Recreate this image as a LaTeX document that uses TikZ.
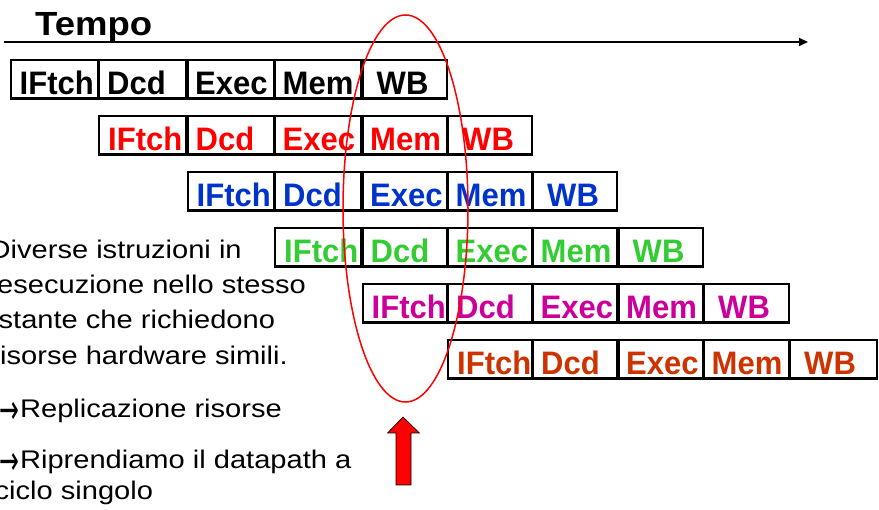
\documentclass[tikz,border=0pt]{standalone}
\usepackage{fontspec}
\usepackage{graphicx}
\setmainfont{Liberation Sans}
\newfontfamily\boxfont[FakeStretch=0.955]{Liberation Sans}
\newfontfamily\tempofont[FakeStretch=1.09]{Liberation Sans}
\newfontfamily\bodyfont[FakeStretch=1.14]{Liberation Sans}
\newfontfamily\arrowfont{DejaVu Sans}
\usetikzlibrary{arrows.meta,shapes.geometric,calc}
\definecolor{cBlue}{RGB}{0,51,204}
\definecolor{cGreen}{RGB}{51,204,51}
\definecolor{cMagenta}{RGB}{204,0,153}
\definecolor{cOrange}{RGB}{204,51,0}
\definecolor{cRed}{RGB}{255,0,0}
\newcommand{\rarr}{\smash{\raisebox{-6pt}{\scalebox{0.95}[1.6]{\arrowfont\fontsize{25}{30}\selectfont →}}}\hspace{1pt}}
\begin{document}
\begin{tikzpicture}[x=1pt,y=-1pt,
  stagebox/.style={draw=black, line width=2.4pt, anchor=north west, minimum height=38.5pt, inner sep=0pt},
  stagetext/.style={anchor=base west, inner sep=0pt, font=\boxfont\bfseries\fontsize{32.5}{38}\selectfont},
  bodytext/.style={anchor=base west, inner sep=0pt, font=\bodyfont\fontsize{25.5}{30}\selectfont},
  axis/.style={line width=2pt, -{Triangle[length=9pt,width=8pt]}},
  oval/.style={draw=cRed, line width=1.5pt, ellipse, inner sep=0pt},
  bigarrow/.style={fill=cRed, draw=black, line width=0.6pt}]
\useasboundingbox (0,0) rectangle (879,510);
\def\colX{{9.5,98,186.5,274,361.5,447,532,617.5,703,789,877.5}}
% time axis
\node[anchor=base west, inner sep=0pt, font=\tempofont\bfseries\fontsize{33.5}{40}\selectfont] (tempo) at (35,36) {Tempo};
\coordinate (t0) at (4,42);
\coordinate (t1) at (808,42);
\draw[axis] (t0) -- (t1);
% pipeline stages
\foreach \r/\col in {0/black,1/cRed,2/cBlue,3/cGreen,4/cMagenta,5/cOrange}{
  \foreach \lab/\off [count=\c from 0] in {IFtch/10,Dcd/9,Exec/8.5,Mem/8.5,WB/15}{
    \pgfmathtruncatemacro\k{\r+\c}
    \pgfmathsetmacro\xa{\colX[\k]}
    \pgfmathsetmacro\xb{\colX[\k+1]}
    \pgfmathsetmacro\w{\xb-\xa-1.5}
    \pgfmathsetmacro\yt{59+56*\r}
    \node[stagebox, minimum width=\w pt] (b\r-\c) at (\xa,\yt) {};
    \node[stagetext, text=\col] (t\r-\c) at ($(b\r-\c.south west)+(\off,-5.5)$) {\lab};
  }
}
% oval and arrow
\node[oval, minimum width=125pt, minimum height=387pt] (ring) at (405.5,208.5) {};
\draw[bigarrow] (403,417) -- (419.5,433) -- (411,433) -- (411,485) -- (396,485) -- (396,433) -- (387.5,433) -- cycle;
% left text
\node[bodytext] (l1) at (-10.5,258.5) {Diverse istruzioni in};
\node[bodytext] (l2) at (-3,293.5) {esecuzione nello stesso};
\node[bodytext] (l3) at (-1.5,329) {stante che richiedono};
\node[bodytext] (l4) at (0,364.5) {isorse hardware simili.};
\node[bodytext] (l5) at (-1,417.5) {\rarr Replicazione risorse};
\node[bodytext] (l6) at (-1,469) {\rarr Riprendiamo il datapath a};
\node[bodytext] (l7) at (-5.5,500) {ciclo singolo};
\end{tikzpicture}
\end{document}
